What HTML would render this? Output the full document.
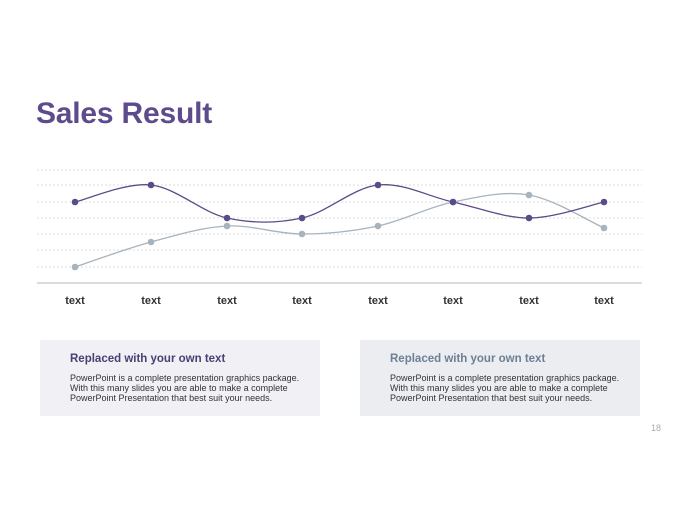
<!DOCTYPE html>
<html><head><meta charset="utf-8"><style>
body{margin:0;width:680px;height:510px;background:#fff;position:relative;overflow:hidden;font-family:"Liberation Sans",sans-serif}
.t{position:absolute;left:36px;top:97px;font-size:30px;font-weight:bold;color:#5e4b8b;letter-spacing:-0.2px}
.p{position:absolute;top:340px;width:280px;height:76px;box-sizing:border-box;padding:13px 0 0 30px}
.p h3{margin:0 0 8px;font-size:11.5px;font-weight:bold}
.p div{font-size:9px;line-height:10px;color:#333}
.n{position:absolute;left:651px;top:423px;font-size:9px;color:#aaa}
</style></head><body>
<div class="t">Sales Result</div>
<svg width="680" height="510" style="position:absolute;left:0;top:0">
<g stroke="#cfd2d6" stroke-width="0.8" stroke-dasharray="2,2">
<line x1="37" y1="170" x2="642" y2="170"/><line x1="37" y1="185" x2="642" y2="185"/>
<line x1="37" y1="202" x2="642" y2="202"/><line x1="37" y1="218" x2="642" y2="218"/>
<line x1="37" y1="234" x2="642" y2="234"/><line x1="37" y1="250" x2="642" y2="250"/>
<line x1="37" y1="267" x2="642" y2="267"/></g>
<line x1="37" y1="283" x2="642" y2="283" stroke="#c8c8c8" stroke-width="1.2"/>
<path fill="none" stroke="#a7b3bd" stroke-width="1.3" d="M75,267 C87.7,262.8 125.7,248.8 151,242 C176.3,235.2 201.8,227.3 227,226 C252.2,224.7 276.8,234 302,234 C327.2,234 352.8,231.3 378,226 C403.2,220.7 427.8,207.2 453,202 C478.2,196.8 503.8,190.7 529,195 C554.2,199.3 591.5,222.5 604,228"/>
<path fill="none" stroke="#5b4b8a" stroke-width="1.3" d="M75,202 C87.7,199.2 125.7,182.3 151,185 C176.3,187.7 201.8,212.5 227,218 C252.2,223.5 276.8,223.5 302,218 C327.2,212.5 352.8,187.7 378,185 C403.2,182.3 427.8,196.5 453,202 C478.2,207.5 503.8,218 529,218 C554.2,218 591.5,204.7 604,202"/>
<g fill="#a7b3bd"><circle cx="75" cy="267" r="3.3"/><circle cx="151" cy="242" r="3.3"/><circle cx="227" cy="226" r="3.3"/><circle cx="302" cy="234" r="3.3"/><circle cx="378" cy="226" r="3.3"/><circle cx="453" cy="202" r="3.3"/><circle cx="529" cy="195" r="3.3"/><circle cx="604" cy="228" r="3.3"/></g>
<g fill="#5b4b8a"><circle cx="75" cy="202" r="3.3"/><circle cx="151" cy="185" r="3.3"/><circle cx="227" cy="218" r="3.3"/><circle cx="302" cy="218" r="3.3"/><circle cx="378" cy="185" r="3.3"/><circle cx="453" cy="202" r="3.3"/><circle cx="529" cy="218" r="3.3"/><circle cx="604" cy="202" r="3.3"/></g>
<g font-family="Liberation Sans, sans-serif" font-size="11" font-weight="bold" fill="#333" text-anchor="middle">
<text x="75" y="304">text</text><text x="151" y="304">text</text><text x="227" y="304">text</text><text x="302" y="304">text</text><text x="378" y="304">text</text><text x="453" y="304">text</text><text x="529" y="304">text</text><text x="604" y="304">text</text></g>
</svg>
<div class="p" style="left:40px;background:#f0f0f5"><h3 style="color:#4a3f72">Replaced with your own text</h3><div>PowerPoint is a complete presentation graphics package.<br>With this many slides you are able to make a complete<br>PowerPoint Presentation that best suit your needs.</div></div>
<div class="p" style="left:360px;background:#ebedf0"><h3 style="color:#6c7f95">Replaced with your own text</h3><div>PowerPoint is a complete presentation graphics package.<br>With this many slides you are able to make a complete<br>PowerPoint Presentation that best suit your needs.</div></div>
<div class="n">18</div>
</body></html>
